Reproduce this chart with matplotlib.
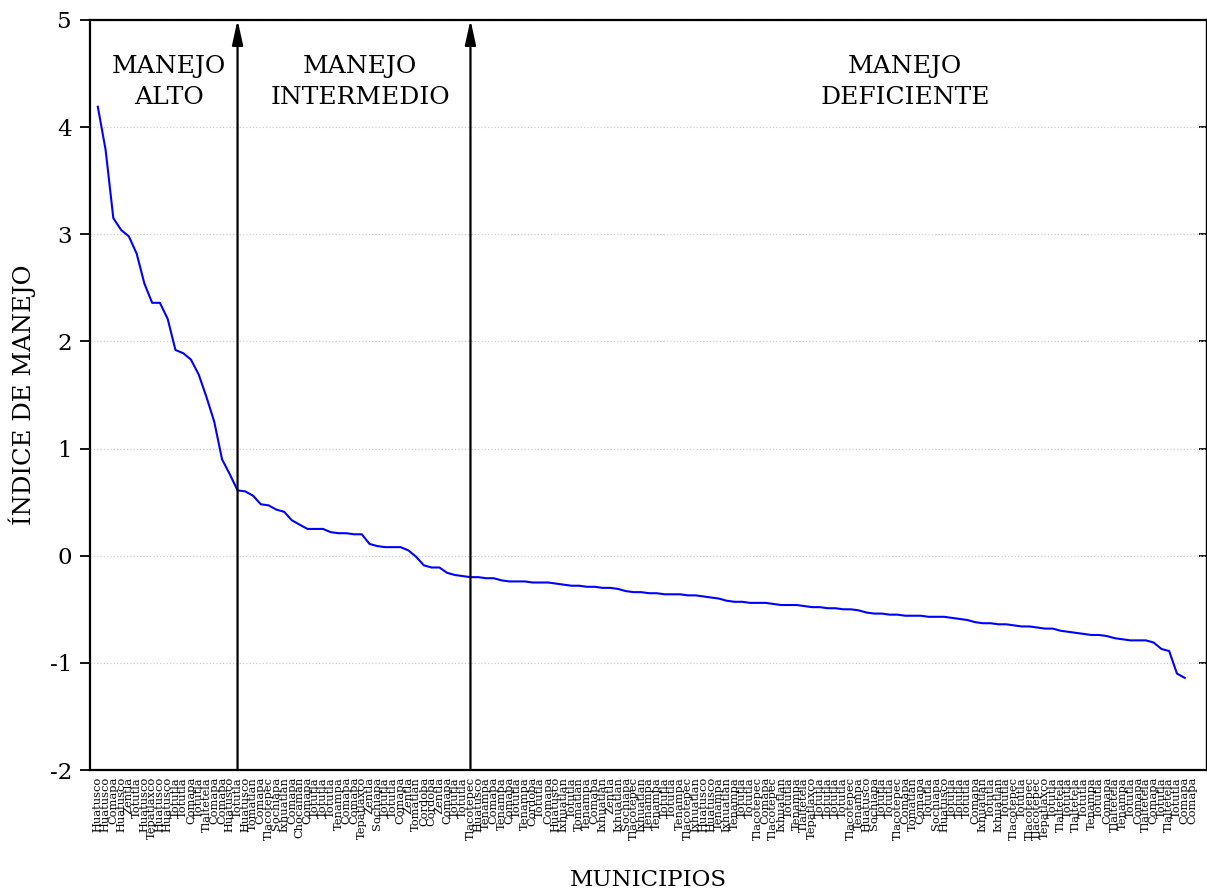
import matplotlib
matplotlib.use("Agg")
import matplotlib.pyplot as plt
import numpy as np

plt.rcParams["font.family"] = ["DejaVu Serif"]
plt.rcParams["axes.unicode_minus"] = False

# municipio per position, sorted by descending index
MUNICIPIOS = [
    "Huatusco", "Huatusco", "Comapa", "Huatusco", "Zentla", "Totutla",
    "Huatusco", "Tepatlaxco", "Huatusco", "Huatusco", "Totutla", "Totutla",
    "Comapa", "Totutla", "Tlaltetela", "Comapa", "Comapa", "Huatusco",
    "Totutla", "Huatusco", "Tomatlan", "Comapa", "Tlacotepec", "Sochiapa",
    "Ixhuatlan", "Comapa", "Chocaman", "Comapa", "Totutla", "Totutla",
    "Totutla", "Tenampa", "Comapa", "Comapa", "Tepatlaxco", "Zentla",
    "Sochiapa", "Totutla", "Totutla", "Comapa", "Zentla", "Tomatlan",
    "Cordoba", "Cordoba", "Zentla", "Comapa", "Totutla", "Totutla",
    "Tlacotepec", "Huatusco", "Tenampa", "Comapa", "Tenampa", "Comapa",
    "Totutla", "Tenampa", "Cordoba", "Totutla", "Comapa", "Huatusco",
    "Ixhuatlan", "Totutla", "Tomatlan", "Tenampa", "Comapa", "Ixhuatlan",
    "Zentla", "Ixhuatlan", "Sochiapa", "Tlacotepec", "Ixhuatlan", "Tenampa",
    "Tenampa", "Totutla", "Totutla", "Tenampa", "Tlacotepec", "Ixhuatlan",
    "Huatusco", "Huatusco", "Tenampa", "Ixhuatlan", "Tenampa", "Totutla",
    "Totutla", "Tlacotepec", "Comapa", "Tlacotepec", "Ixhuatlan", "Totutla",
    "Tenampa", "Tlaltetela", "Tepatlaxco", "Totutla", "Totutla", "Totutla",
    "Totutla", "Tlacotepec", "Tenampa", "Huatusco", "Sochiapa", "Totutla",
    "Totutla", "Tlacotepec", "Comapa", "Tomatlan", "Comapa", "Totutla",
    "Sochiapa", "Huatusco", "Totutla", "Totutla", "Totutla", "Comapa",
    "Ixhuatlan", "Totutla", "Ixhuatlan", "Totutla", "Tlacotepec", "Totutla",
    "Tlacotepec", "Tlacotepec", "Tepatlaxco", "Totutla", "Tlaltetela", "Totutla",
    "Tlaltetela", "Totutla", "Tenampa", "Totutla", "Comapa", "Tlaltetela",
    "Tenampa", "Totutla", "Comapa", "Tlaltetela", "Comapa", "Totutla",
    "Tlaltetela", "Totutla", "Comapa", "Comapa",
]

INDICE = [
    4.19, 3.79, 3.15, 3.04, 2.98, 2.82, 2.54, 2.36, 2.36, 2.21,
    1.92, 1.89, 1.83, 1.69, 1.48, 1.25, 0.90, 0.76, 0.61, 0.60,
    0.56, 0.48, 0.47, 0.43, 0.41, 0.33, 0.29, 0.25, 0.25, 0.25,
    0.22, 0.21, 0.21, 0.20, 0.20, 0.11, 0.09, 0.08, 0.08, 0.08,
    0.05, -0.01, -0.09, -0.11, -0.11, -0.16, -0.18, -0.19, -0.20, -0.20,
    -0.21, -0.21, -0.23, -0.24, -0.24, -0.24, -0.25, -0.25, -0.25, -0.26,
    -0.27, -0.28, -0.28, -0.29, -0.29, -0.30, -0.30, -0.31, -0.33, -0.34,
    -0.34, -0.35, -0.35, -0.36, -0.36, -0.36, -0.37, -0.37, -0.38, -0.39,
    -0.40, -0.42, -0.43, -0.43, -0.44, -0.44, -0.44, -0.45, -0.46, -0.46,
    -0.46, -0.47, -0.48, -0.48, -0.49, -0.49, -0.50, -0.50, -0.51, -0.53,
    -0.54, -0.54, -0.55, -0.55, -0.56, -0.56, -0.56, -0.57, -0.57, -0.57,
    -0.58, -0.59, -0.60, -0.62, -0.63, -0.63, -0.64, -0.64, -0.65, -0.66,
    -0.66, -0.67, -0.68, -0.68, -0.70, -0.71, -0.72, -0.73, -0.74, -0.74,
    -0.75, -0.77, -0.78, -0.79, -0.79, -0.79, -0.81, -0.87, -0.89, -1.10,
    -1.14,
]

# group boundaries (positions) and group names
CORTES = [18, 48]
GRUPOS = ["MANEJO\nALTO", "MANEJO\nINTERMEDIO", "MANEJO\nDEFICIENTE"]
GRUPO_X = [9.2, 33.8, 104.0]


def main():
    fig = plt.figure(figsize=(12.07, 8.93), dpi=100)
    ax = fig.add_axes([0.0746, 0.1377, 0.9256, 0.84])

    x = np.arange(len(INDICE))
    ax.plot(x, INDICE, color="#0000ff", lw=1.5, zorder=3)

    ax.set_xlim(-1, 142.9)
    ax.set_ylim(-2, 5)

    # every position gets a label, ticks + grid every 6 positions
    ax.set_xticks(np.arange(len(MUNICIPIOS)))
    ax.set_xticklabels(MUNICIPIOS, rotation=90, fontsize=8.2)
    ax.set_xticks(np.arange(0, len(MUNICIPIOS), 6), minor=True)
    ax.tick_params(axis="x", which="major", length=0, pad=5)
    ax.tick_params(axis="x", which="minor", direction="in", length=5,
                   width=1.3, top=True, bottom=True)
    ax.grid(True, axis="x", which="minor", color="0.8", ls=":", lw=0.9)

    ax.set_yticks(np.arange(-2, 6, 1))
    ax.set_yticklabels([str(v) for v in range(-2, 6)], fontsize=16.5)
    ax.tick_params(axis="y", direction="out", length=7, width=1.3, pad=6)
    ax.grid(True, axis="y", color="0.8", ls=":", lw=0.9)
    sec = ax.secondary_yaxis("right")
    sec.set_yticks(np.arange(-2, 6, 1))
    sec.tick_params(direction="in", length=6, width=1.3, labelright=False)

    for s in ax.spines.values():
        s.set_linewidth(1.6)
    sec.spines["right"].set_linewidth(1.6)

    for c in CORTES:
        ax.annotate("", xy=(c, 5), xytext=(c, -2),
                    arrowprops=dict(arrowstyle="-|>,head_length=1.0,head_width=0.22",
                                    color="black", lw=1.6, mutation_scale=15,
                                    shrinkA=0, shrinkB=0), zorder=4)

    for name, gx in zip(GRUPOS, GRUPO_X):
        ax.text(gx, 4.42, name, ha="center", va="center", fontsize=18,
                linespacing=1.4)

    ax.set_ylabel("ÍNDICE DE MANEJO", fontsize=17.5, labelpad=10)
    fig.text(0.537, 0.015, "MUNICIPIOS", ha="center", va="center", fontsize=16.5)

    fig.savefig("out.png", dpi=100)


if __name__ == "__main__":
    main()
